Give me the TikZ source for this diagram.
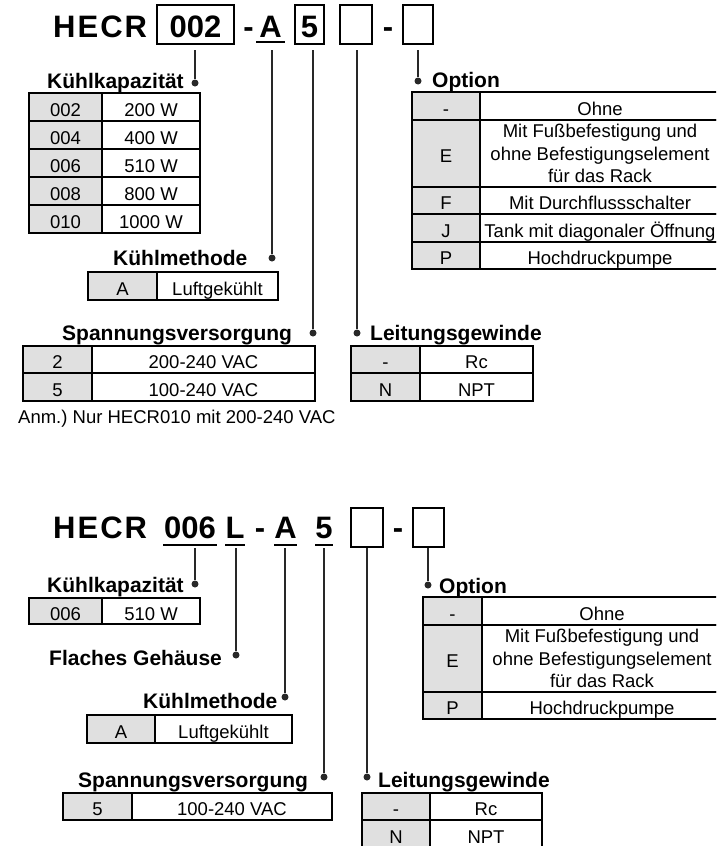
\documentclass[tikz,border=0pt]{standalone}
\usepackage{fontspec}
\setmainfont{Liberation Sans}
\frenchspacing
\definecolor{hdgray}{RGB}{224,224,224}
\definecolor{lngray}{RGB}{40,40,40}
\newcommand\tabfont{\fontsize{18.5}{22.5}\selectfont}
\newcommand\ttlfont{\fontsize{21}{24}\selectfont\bfseries}
\newcommand\bigfont{\fontsize{31}{36}\selectfont\bfseries}
\tikzset{
  tbl/.style={draw=black, line width=2pt, inner sep=0pt, outer sep=0pt, font=\tabfont, align=center},
  strut/.style={text height=18pt, text depth=0pt},
  hd/.style={tbl, strut, fill=hdgray},
  vl/.style={tbl, strut, fill=white},
  vlm/.style={tbl, fill=white},
  ttl/.style={font=\ttlfont, anchor=base west, inner sep=0pt},
  dotn/.style={circle, fill=lngray, inner sep=0pt, minimum size=7pt},
  conn/.style={line width=1.3pt, draw=lngray},
  bigt/.style={font=\bigfont, inner sep=0pt, anchor=base},
  codebox/.style={draw=black, line width=2pt, inner sep=0pt, font=\bigfont, text height=25pt, text depth=0pt},
  ul/.style={line width=2.8pt}
}
\newcommand\tcell[7]{%
  \pgfmathsetmacro\cellw{#4-#2}%
  \pgfmathsetmacro\cellh{#5-#3}%
  \node[#6, minimum width=\cellw pt, minimum height=\cellh pt] (#1) at ({(#2+#4)/2},{(#3+#5)/2}) {#7};}
\begin{document}
\begin{tikzpicture}[x=1pt,y=-1pt]
\useasboundingbox (0,0) rectangle (716,846);
\clip (0,0) rectangle (716,846);
\fill[white] (0,0) rectangle (716,846);

% ================= TOP CODE =================
\node[bigt, anchor=base west] (h1) at (53,37) {H\kern2pt E\kern2pt C\kern2pt R};
\node[codebox, minimum width=77pt, minimum height=39pt] (b1) at (195.5,24.5) {002};
\node[bigt] (m1) at (248.5,37) {-};
\node[bigt] (a1) at (270.5,37) {A};
\draw[ul] (256,42) -- (285,42);
\node[codebox, minimum width=29pt, minimum height=39pt] (b2) at (309.5,24.5) {5};
\node[codebox, minimum width=32pt, minimum height=39pt] (b3) at (356,24.5) {};
\node[bigt] (m2) at (388,37) {-};
\node[codebox, minimum width=30pt, minimum height=39pt] (b4) at (418,24.5) {};

\coordinate (s1) at (195,50);
\coordinate (s2) at (272,50);
\coordinate (s3) at (313,50);
\coordinate (s4) at (357,50);
\coordinate (s5) at (418,50);

% titles & dots (top)
\node[ttl] (t1) at (47,88) {Kühlkapazität};
\node[dotn] (d1) at (195,83) {};
\node[ttl] (t2) at (432,87) {Option};
\node[dotn] (d2) at (418,81) {};
\node[ttl] (t3) at (113,265) {Kühlmethode};
\node[dotn] (d3) at (272,258) {};
\node[ttl] (t4) at (62,340) {Spannungsversorgung};
\node[dotn] (d4) at (313,333) {};
\node[ttl] (t5) at (370,340) {Leitungsgewinde};
\node[dotn] (d5) at (357,333) {};

\draw[conn] (s1) -- (d1);
\draw[conn] (s2) -- (d3);
\draw[conn] (s3) -- (d4);
\draw[conn] (s4) -- (d5);
\draw[conn] (s5) -- (d2);

% Kühlkapazität table
\tcell{ka1}{29}{93}{102}{121}{hd}{002}  \tcell{kb1}{102}{93}{200}{121}{vl}{200 W}
\tcell{ka2}{29}{121}{102}{149}{hd}{004} \tcell{kb2}{102}{121}{200}{149}{vl}{400 W}
\tcell{ka3}{29}{149}{102}{177}{hd}{006} \tcell{kb3}{102}{149}{200}{177}{vl}{510 W}
\tcell{ka4}{29}{177}{102}{205}{hd}{008} \tcell{kb4}{102}{177}{200}{205}{vl}{800 W}
\tcell{ka5}{29}{205}{102}{233}{hd}{010} \tcell{kb5}{102}{205}{200}{233}{vl}{1000 W}

% Option table
\tcell{oa1}{412}{92}{480}{120}{hd}{-}  \tcell{ob1}{480}{92}{720}{120}{vl}{Ohne}
\tcell{oa2}{412}{120}{480}{187}{hd}{E} \tcell{ob2}{480}{120}{720}{187}{vlm}{Mit Fußbefestigung und\\ohne Befestigungselement\\für das Rack}
\tcell{oa3}{412}{187}{480}{214}{hd}{F} \tcell{ob3}{480}{187}{720}{214}{vl}{Mit Durchflussschalter}
\tcell{oa4}{412}{214}{480}{242}{hd}{J} \tcell{ob4}{480}{214}{720}{242}{vl}{Tank mit diagonaler Öffnung}
\tcell{oa5}{412}{242}{480}{269}{hd}{P} \tcell{ob5}{480}{242}{720}{269}{vl}{Hochdruckpumpe}

% Kühlmethode table
\tcell{ma1}{88}{272}{157}{300}{hd}{A} \tcell{mb1}{157}{272}{278}{300}{vl}{Luftgekühlt}

% Spannungsversorgung table
\tcell{pa1}{23}{346}{92}{373}{hd}{2} \tcell{pb1}{92}{346}{315}{373}{vl}{200-240 VAC}
\tcell{pa2}{23}{373}{92}{401}{hd}{5} \tcell{pb2}{92}{373}{315}{401}{vl}{100-240 VAC}

% Leitungsgewinde table
\tcell{la1}{351}{346}{420}{373}{hd}{-} \tcell{lb1}{420}{346}{533}{373}{vl}{Rc}
\tcell{la2}{351}{373}{420}{401}{hd}{N} \tcell{lb2}{420}{373}{533}{401}{vl}{NPT}

\node[font=\tabfont, anchor=base west, inner sep=0pt] (note) at (18,423) {Anm.) Nur HECR010 mit 200-240 VAC};

% ================= BOTTOM CODE =================
\node[bigt, anchor=base west] (h2) at (53,538) {H\kern2pt E\kern2pt C\kern2pt R};
\node[bigt] (c2) at (190,538) {006};
\draw[ul] (163,545) -- (217,545);
\node[bigt] (l2) at (235,538) {L};
\draw[ul] (225,545) -- (245,545);
\node[bigt] (m3) at (260,538) {-};
\node[bigt] (a2) at (285.5,538) {A};
\draw[ul] (274,545) -- (297,545);
\node[bigt] (v2) at (324,538) {5};
\draw[ul] (315,545) -- (333,545);
\node[codebox, minimum width=32pt, minimum height=39pt] (b5) at (367,527.5) {};
\node[bigt] (m4) at (398,538) {-};
\node[codebox, minimum width=31pt, minimum height=39pt] (b6) at (428.5,527.5) {};

\coordinate (u1) at (195,548);
\coordinate (u2) at (236,548);
\coordinate (u3) at (285,548);
\coordinate (u4) at (324,548);
\coordinate (u5) at (367,548);
\coordinate (u6) at (428,548);

\node[ttl] (t6) at (47,592) {Kühlkapazität};
\node[dotn] (d6) at (195,584) {};
\node[ttl] (t7) at (49,665) {Flaches Gehäuse};
\node[dotn] (d7) at (236,655) {};
\node[ttl] (t8) at (143,708) {Kühlmethode};
\node[dotn] (d8) at (285,697) {};
\node[ttl] (t9) at (78,787) {Spannungsversorgung};
\node[dotn] (d9) at (324,777) {};
\node[ttl] (t10) at (378,787) {Leitungsgewinde};
\node[dotn] (d10) at (367,777) {};
\node[ttl] (t11) at (439,593) {Option};
\node[dotn] (d11) at (428,585) {};

\draw[conn] (u1) -- (d6);
\draw[conn] (u2) -- (d7);
\draw[conn] (u3) -- (d8);
\draw[conn] (u4) -- (d9);
\draw[conn] (u5) -- (d10);
\draw[conn] (u6) -- (d11);

\tcell{kc1}{29}{598}{102}{624}{hd}{006} \tcell{kd1}{102}{598}{200}{624}{vl}{510 W}

\tcell{oc1}{423}{597}{482}{625}{hd}{-}  \tcell{od1}{482}{597}{722}{625}{vl}{Ohne}
\tcell{oc2}{423}{625}{482}{692}{hd}{E}  \tcell{od2}{482}{625}{722}{692}{vlm}{Mit Fußbefestigung und\\ohne Befestigungselement\\für das Rack}
\tcell{oc3}{423}{692}{482}{719}{hd}{P}  \tcell{od3}{482}{692}{722}{719}{vl}{Hochdruckpumpe}

\tcell{mc1}{87}{715}{155}{743}{hd}{A} \tcell{md1}{155}{715}{292}{743}{vl}{Luftgekühlt}

\tcell{pc1}{63}{793}{132}{820}{hd}{5} \tcell{pd1}{132}{793}{332}{820}{vl}{100-240 VAC}

\tcell{lc1}{362}{793}{430}{820}{hd}{-} \tcell{ld1}{430}{793}{542}{820}{vl}{Rc}
\tcell{lc2}{362}{820}{430}{848}{hd}{N} \tcell{ld2}{430}{820}{542}{848}{vl}{NPT}
\end{tikzpicture}
\end{document}
